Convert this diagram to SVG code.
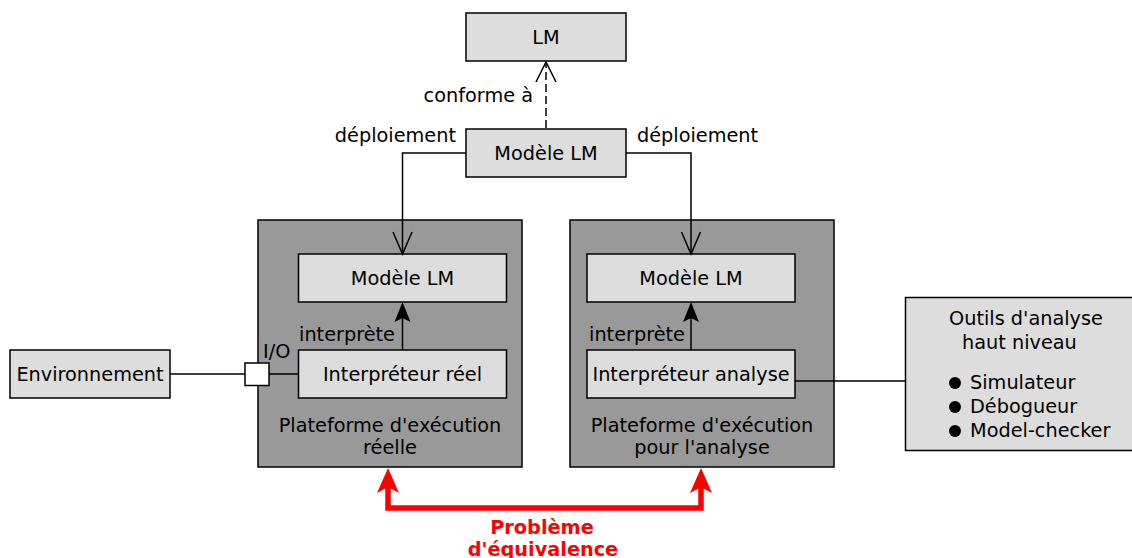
<svg xmlns="http://www.w3.org/2000/svg" width="1132" height="558" viewBox="0 0 1132 558">
<style>
text{font-family:"DejaVu Sans",Verdana,sans-serif;font-size:19.3px;fill:#000}
.c{text-anchor:middle}
.e{text-anchor:end}
.box{fill:#dddddd;stroke:#000;stroke-width:1.5}
.plat{fill:#999999;stroke:#000;stroke-width:1.5}
.ln{fill:none;stroke:#000;stroke-width:1.5}
.red{fill:none;stroke:#ff0000;stroke-width:5.5}
.rt{fill:#ff0000;font-weight:bold}
</style>
<rect width="1132" height="558" fill="#fff"/>
<g id="lm"><rect class="box" x="466" y="13" width="160" height="48"/><text class="c" x="546" y="44">LM</text></g>
<g id="modele-top"><rect class="box" x="466" y="129" width="160" height="48"/><text class="c" x="546" y="160">Modèle LM</text></g>
<g id="plateforme-reelle">
<rect class="plat" x="258" y="220" width="264" height="247"/>
<text class="c" x="390" y="432">Plateforme d'exécution</text>
<text class="c" x="390" y="454">réelle</text>
</g>
<g id="modele-reel"><rect class="box" x="298.5" y="254" width="208" height="48"/><text class="c" x="402.5" y="285">Modèle LM</text></g>
<g id="interp-reel"><rect class="box" x="298.5" y="350" width="208" height="48"/><text class="c" x="402.5" y="381">Interpréteur réel</text></g>
<g id="io"><rect x="245" y="363" width="24" height="22.5" fill="#fff" stroke="#000" stroke-width="1.5"/><text x="263" y="358">I/O</text></g>
<g id="plateforme-analyse">
<rect class="plat" x="570" y="220" width="264" height="247"/>
<text class="c" x="702" y="432">Plateforme d'exécution</text>
<text class="c" x="702" y="454">pour l'analyse</text>
</g>
<g id="modele-analyse"><rect class="box" x="587" y="254" width="208" height="48"/><text class="c" x="691" y="285">Modèle LM</text></g>
<g id="interp-analyse"><rect class="box" x="587" y="350" width="208" height="48"/><text class="c" x="691" y="381">Interpréteur analyse</text></g>
<g id="environnement"><rect class="box" x="10" y="350" width="160" height="48"/><text class="c" x="90" y="381">Environnement</text></g>
<g id="outils">
<rect class="box" x="905.5" y="297.5" width="228" height="153"/>
<text x="949" y="325">Outils d'analyse</text>
<text x="962" y="349">haut niveau</text>
<circle cx="955" cy="383" r="6"/><text x="970" y="389">Simulateur</text>
<circle cx="955" cy="407" r="6"/><text x="970" y="413">Débogueur</text>
<circle cx="955" cy="431" r="6"/><text x="970" y="437">Model-checker</text>
</g>
<g id="connectors">
<path class="ln" d="M546,128 V63" stroke-dasharray="8,4"/>
<path class="ln" d="M536,82 L546,62 L556,82"/>
<text class="e" x="533" y="102">conforme à</text>
<path class="ln" d="M466,153 H402.5 V253"/>
<path class="ln" d="M393,232 L402.5,254 L412,232"/>
<text class="e" x="456" y="142">déploiement</text>
<path class="ln" d="M626,153 H691 V253"/>
<path class="ln" d="M681.5,232 L691,254 L700.5,232"/>
<text x="637" y="142">déploiement</text>
<path class="ln" d="M402.5,350 V312"/>
<path d="M402.5,302 L410.5,322 L402.5,318 L394.5,322 Z"/>
<text class="e" x="395" y="341">interprète</text>
<path class="ln" d="M691,350 V312"/>
<path d="M691,302 L699,322 L691,318 L683,322 Z"/>
<text class="e" x="685" y="341">interprète</text>
<path class="ln" d="M170,374 H245"/>
<path class="ln" d="M269,374 H298.5"/>
<path class="ln" d="M795,381 H905.5"/>
<path class="red" d="M388,486 V508 H701 V486"/>
<path d="M388,468 L399,493 L388,487 L377,493 Z" fill="#ff0000"/>
<path d="M701,468 L712,493 L701,487 L690,493 Z" fill="#ff0000"/>
<text class="c rt" x="542" y="534">Problème</text>
<text class="c rt" x="543" y="556">d'équivalence</text>
</g>
</svg>
